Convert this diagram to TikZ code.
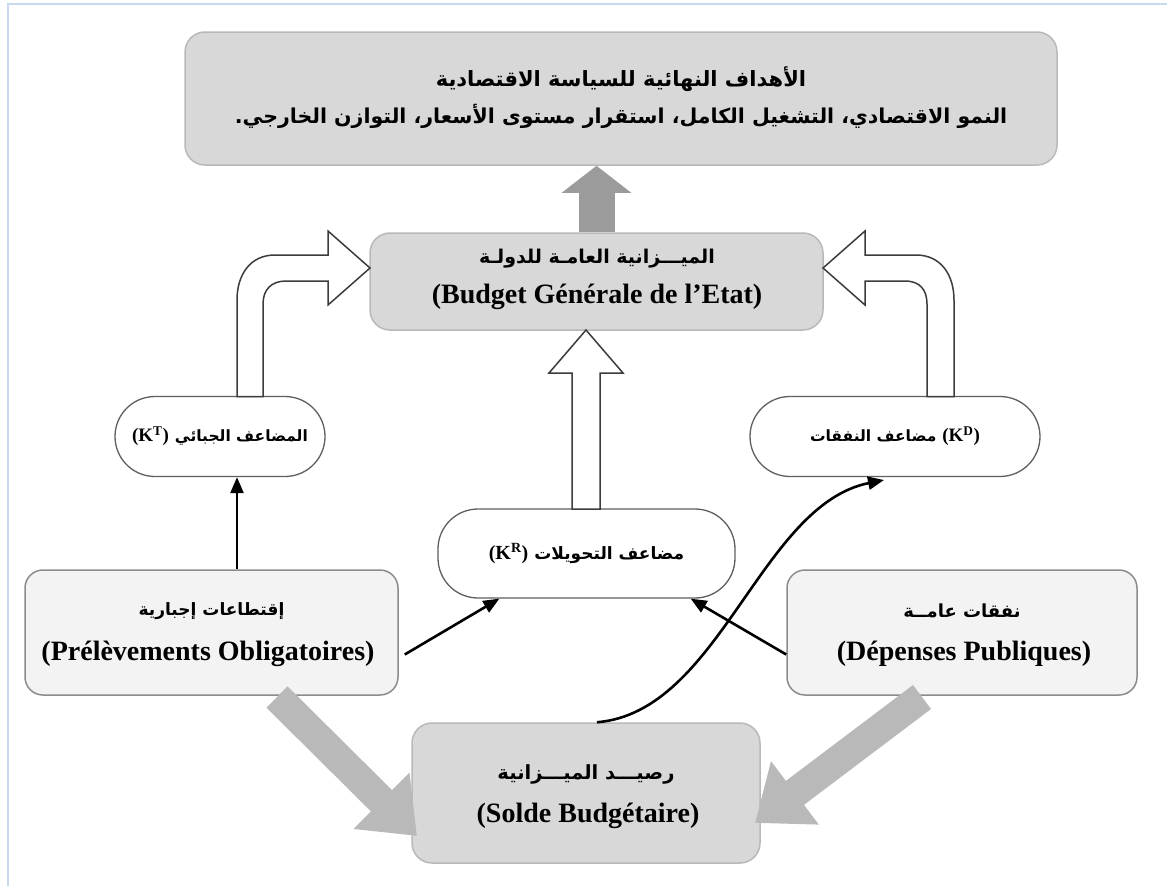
\documentclass[tikz,border=0pt]{standalone}
\usepackage{fontspec}
\setmainfont{Liberation Serif}
\newfontfamily\arabicfont[Script=Arabic]{DejaVu Sans}
\TeXXeTstate=1
\usetikzlibrary{arrows.meta,calc}

\definecolor{boxgray}{RGB}{216,216,216}
\definecolor{boxedge}{RGB}{185,185,185}
\definecolor{boxlight}{RGB}{243,243,243}
\definecolor{lightedge}{RGB}{140,140,140}
\definecolor{pilledge}{RGB}{95,95,95}
\definecolor{fatgray}{RGB}{185,185,185}
\definecolor{topgray}{RGB}{155,155,155}
\definecolor{hollowedge}{RGB}{60,60,60}
\definecolor{framecol}{RGB}{198,217,241}

% font switches for Arabic and French lines
\newcommand{\arf}[1]{\fontsize{#1}{#1}\arabicfont\bfseries}
\newcommand{\frf}[1]{\fontsize{#1}{#1}\rmfamily\bfseries}

\begin{document}
\begin{tikzpicture}[x=1pt,y=-1pt,
  graybox/.style={draw=boxedge, fill=boxgray, rounded corners=20pt, line width=1.5pt},
  lightbox/.style={draw=lightedge, fill=boxlight, rounded corners=18pt, line width=1.5pt},
  pill/.style={draw=pilledge, fill=white, rounded corners=40pt, line width=1.3pt, inner sep=0pt},
  txt/.style={inner sep=0pt},
  conn/.style={line width=2.6pt, -{Triangle[length=16pt,width=13pt]}},
  fat/.style={line width=30pt, draw=fatgray, -{Triangle[length=50pt,width=76pt]}},
  hollow/.style={draw=hollowedge, fill=white, line width=1.5pt, line join=miter}]

\useasboundingbox (0,0) rectangle (1167,886);
\fill[white] (0,0) rectangle (1167,886);
\draw[framecol, line width=2pt] (8,886) -- (8,4) -- (1167,4);

% top box: final objectives
\node[graybox, minimum width=872pt, minimum height=133pt] (top) at (621,98.5) {};
\node[txt] (top1) at (621,79) {\arf{21pt}\beginR الأهداف النهائية للسياسة الاقتصادية\endR};
\node[txt] (top2) at (621,116) {\arf{20.5pt}\beginR النمو الاقتصادي، التشغيل الكامل، استقرار مستوى الأسعار، التوازن الخارجي.\endR};

% budget box
\node[graybox, minimum width=453pt, minimum height=97pt] (bud) at (596.5,281.5) {};
\node[txt] at (597,259) {\arf{19pt}\beginR الميـــزانية العامـة للدولـة\endR};
\node[txt] at (597,297) {\frf{28pt}(Budget Générale de l’Etat)};

% multiplier nodes
\node[pill, minimum width=210pt, minimum height=80pt] (kt) at (220,436.5) {};
\node[txt] at (kt) {{\frf{19pt}(K\textsuperscript{T})}\hspace{6pt}{\arf{15.5pt}\beginR المضاعف الجبائي\endR}};
\node[pill, minimum width=290pt, minimum height=80pt] (kd) at (895,436.5) {};
\node[txt] at (kd) {{\arf{15.5pt}\beginR مضاعف النفقات\endR}\hspace{6pt}{\frf{19pt}(K\textsuperscript{D})}};
\node[pill, minimum width=297pt, minimum height=89pt] (kr) at (586.5,553.5) {};
\node[txt] at (kr) {{\frf{20pt}(K\textsuperscript{R})}\hspace{6pt}{\arf{17pt}\beginR مضاعف التحويلات\endR}};

% lower boxes
\node[lightbox, minimum width=373pt, minimum height=125pt] (prel) at (211.5,632.5) {};
\node[txt] at (211.5,611) {\arf{17pt}\beginR إقتطاعات إجبارية\endR};
\node[txt] at (208,654) {\frf{28pt}(Prélèvements Obligatoires)};
\node[lightbox, minimum width=350pt, minimum height=125pt] (dep) at (962,632.5) {};
\node[txt] at (962,611) {\arf{18pt}\beginR نفقات عامــة\endR};
\node[txt] at (964,654) {\frf{28pt}(Dépenses Publiques)};
\node[graybox, minimum width=348pt, minimum height=140pt] (solde) at (586,793) {};
\node[txt] at (586,774) {\arf{19.5pt}\beginR رصيـــد الميـــزانية\endR};
\node[txt] at (588,816) {\frf{28pt}(Solde Budgétaire)};

% thick gray arrows
\draw[line width=36pt, draw=topgray, -{Triangle[length=27pt,width=68pt]}]
  (bud.north) -- (bud.north |- top.south);
\coordinate (g1s) at (277,697);
\coordinate (g1e) at (417,836);
\coordinate (g2s) at (922,697);
\coordinate (g2e) at (755,823);
\draw[fat] (g1s) -- (g1e);
\draw[fat] (g2s) -- (g2e);

% hollow arrows into the budget box
\draw[hollow] (237,396.5) -- (237,300) .. controls (237,275) and (250,255) .. (275,255) -- (328,255)
  -- (328,231) -- (370,268) -- (328,305) -- (328,281) -- (286,281)
  .. controls (271,281) and (263,290) .. (263,304) -- (263,396.5) -- cycle;
\draw[hollow] (954,396.5) -- (954,300) .. controls (954,275) and (941,255) .. (916,255) -- (865,255)
  -- (865,231) -- (823,268) -- (865,305) -- (865,281) -- (905,281)
  .. controls (920,281) and (927,290) .. (927,304) -- (927,396.5) -- cycle;
\draw[hollow] (572,509) -- (572,373) -- (549,373) -- (586,330) -- (623,373) -- (600,373)
  -- (600,509) -- cycle;

% black connectors
\coordinate (ktx) at (237,0);
\draw[conn] (prel.north -| ktx) -- (kt.south -| ktx);
\draw[conn] ($(prel.east)+(6,22)$) -- ($(kr.south west)+(62,0)$);
\draw[conn] ($(dep.west)+(0,22)$) -- ($(kr.south east)+(-45,0)$);
\coordinate (kdin) at (884,480);
\draw[conn] ($(solde.north)+(11,0)$) .. controls (720,712) and (760,505) .. (kdin);

\end{tikzpicture}
\end{document}
